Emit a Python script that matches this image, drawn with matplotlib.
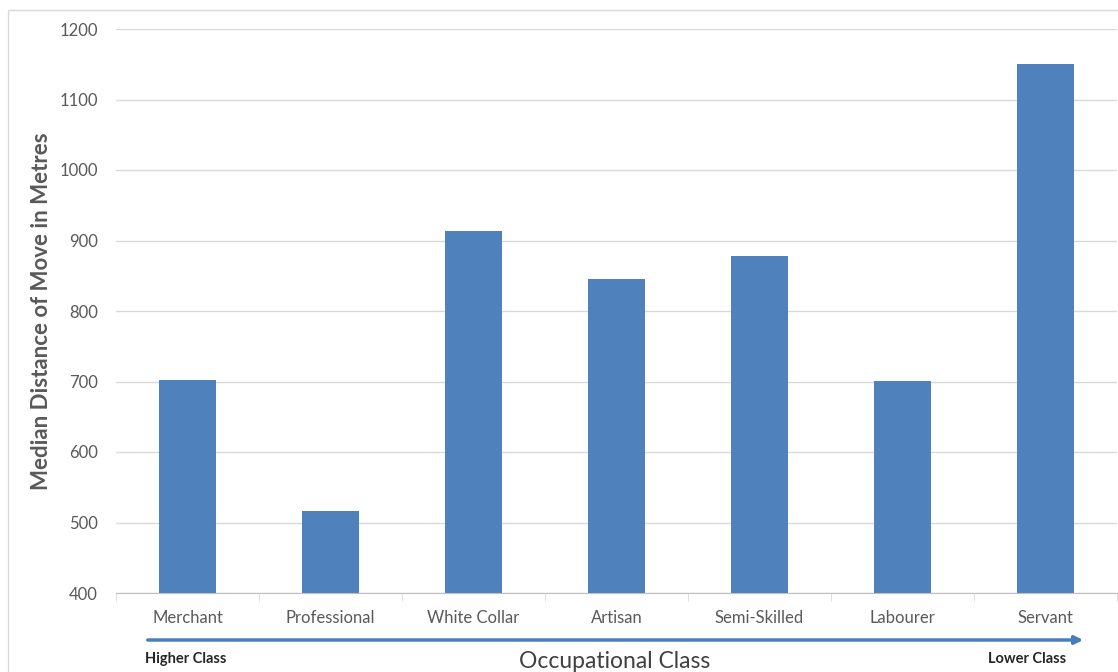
import numpy as np
import matplotlib
matplotlib.use("Agg")
import matplotlib.pyplot as plt
from matplotlib.patches import Rectangle, FancyArrowPatch

# data
occupations = ['Merchant', 'Professional', 'White Collar', 'Artisan',
               'Semi-Skilled', 'Labourer', 'Servant']
median_distance = [702, 516, 914, 846, 878, 701, 1150]
y_ticks = [400, 500, 600, 700, 800, 900, 1000, 1100, 1200]

plt.rcParams['font.family'] = ['Lato', 'DejaVu Sans']

W, H = 1118, 672
fig = plt.figure(figsize=(W / 100, H / 100), dpi=100)
fig.patch.set_facecolor('white')

# light frame round the chart area
fig.patches.append(Rectangle((8 / W, -0.01), 1.02, 1 - 10 / H + 0.01,
                             transform=fig.transFigure, fill=False,
                             edgecolor='#d9d9d9', lw=1))

ax = fig.add_axes([116 / W, 1 - 593 / H, 1001 / W, (593 - 29) / H])

x = np.arange(len(occupations))
ax.bar(x, median_distance, width=0.4, color='#4f81bd', zorder=3)

ax.set_xlim(-0.5, len(occupations) - 0.5)
ax.set_ylim(400, 1200)
ax.set_yticks(y_ticks)
ax.set_xticks(x)
ax.set_xticklabels(occupations)
ax.set_xticks(np.arange(len(occupations) + 1) - 0.5, minor=True)

ax.grid(axis='y', color='#d9d9d9', lw=1, zorder=0)
for s in ['top', 'right', 'left']:
    ax.spines[s].set_visible(False)
ax.spines['bottom'].set_color('#bfbfbf')
ax.spines['bottom'].set_zorder(4)

ax.tick_params(axis='y', length=0, pad=13, labelsize=12, labelcolor='#595959')
ax.tick_params(axis='x', which='major', length=0, pad=12, labelsize=12,
               labelcolor='#595959')
ax.tick_params(axis='x', which='minor', length=6, color='#d9d9d9', direction='out')

ax.set_ylabel('Median Distance of Move in Metres', fontsize=16, fontweight='bold',
              color='#595959')
ax.yaxis.set_label_coords((52 - 116) / 1001, 0.5)

# arrow under the category labels, from higher to lower class
arrow = FancyArrowPatch((145 / W, 1 - 640 / H), (1086 / W, 1 - 640 / H),
                        transform=fig.transFigure, arrowstyle='-|>',
                        mutation_scale=12, color='#4a7ebb', lw=2.5)
fig.patches.append(arrow)

fig.text(145 / W, 1 - 659 / H, 'Higher Class', fontsize=10.5, fontweight='bold',
         color='#262626', ha='left', va='center')
fig.text(1066 / W, 1 - 659 / H, 'Lower Class', fontsize=10.5, fontweight='bold',
         color='#262626', ha='right', va='center')
fig.text(615 / W, 1 - 661 / H, 'Occupational Class', fontsize=16.5,
         color='#404040', ha='center', va='center')

fig.savefig('out.png', dpi=100)
